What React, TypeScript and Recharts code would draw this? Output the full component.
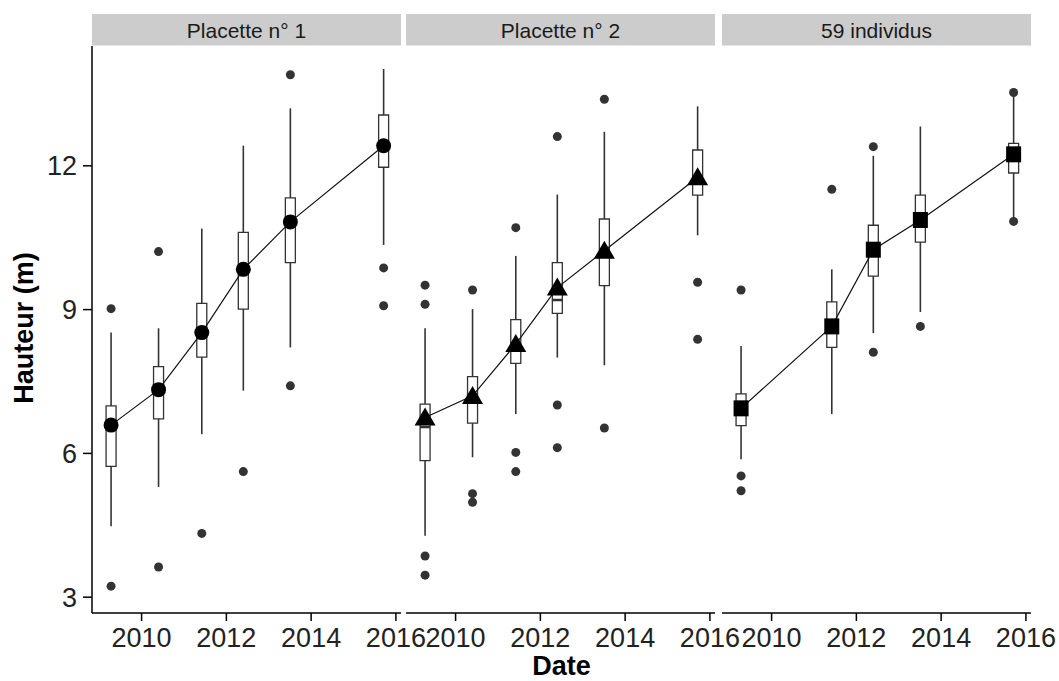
import React from 'react';
import {
  ComposedChart,
  XAxis,
  YAxis,
  Line,
  Scatter,
  ReferenceArea,
  ReferenceLine,
} from 'recharts';

const FONT = '"Liberation Sans", Arial, Helvetica, sans-serif';

// ---------- data ----------
const panelTitles = ['Placette n° 1', 'Placette n° 2', '59 individus'];
const xTicks = [2010, 2012, 2014, 2016];
const yTicks = [3, 6, 9, 12];

const datesAll = [2009.28, 2010.4, 2011.42, 2012.4, 2013.51, 2015.71];
const datesP3 = [2009.28, 2011.42, 2012.4, 2013.51, 2015.71];

// Placette n° 1
const p1Low = [4.48, 5.3, 6.4, 7.31, 8.21, 10.35];
const p1Q1 = [5.73, 6.72, 8.01, 9.01, 9.98, 11.97];
const p1Median = [6.5, 7.3, 8.5, 9.8, 10.8, 12.4];
const p1Q3 = [6.99, 7.81, 9.13, 10.61, 11.33, 13.06];
const p1High = [8.52, 8.61, 10.69, 12.42, 13.2, 14.02];
const p1Mean = [6.59, 7.33, 8.52, 9.84, 10.83, 12.42];
const p1Outliers = [[9.02, 3.23], [10.21, 3.63], [4.33], [5.62], [13.9, 7.41], [9.87, 9.08]];

// Placette n° 2
const p2Low = [4.28, 5.92, 6.82, 8.0, 7.84, 10.55];
const p2Q1 = [5.85, 6.63, 7.88, 8.92, 9.5, 11.39];
const p2Median = [6.55, 7.2, 8.3, 9.2, 10.2, 11.75];
const p2Q3 = [7.03, 7.6, 8.79, 9.98, 10.89, 12.33];
const p2High = [8.61, 9.01, 10.12, 11.4, 12.71, 13.24];
const p2Mean = [6.75, 7.2, 8.28, 9.46, 10.23, 11.76];
const p2Outliers = [[9.51, 9.11, 3.86, 3.46], [9.41, 5.16, 4.98], [10.71, 6.02, 5.62], [12.61, 7.01, 6.12], [13.39, 6.53], [9.57, 8.38]];

// 59 individus
const p3Low = [5.88, 6.82, 8.51, 8.95, 10.9];
const p3Q1 = [6.58, 8.21, 9.7, 10.41, 11.85];
const p3Median = [6.95, 8.65, 10.25, 10.87, 12.25];
const p3Q3 = [7.24, 9.16, 10.76, 11.39, 12.47];
const p3High = [8.24, 9.84, 12.21, 12.82, 13.45];
const p3Mean = [6.94, 8.65, 10.25, 10.87, 12.24];
const p3Outliers = [[9.41, 5.53, 5.22], [11.51], [12.4, 8.11], [8.65], [13.53, 10.84]];

// ---------- layout ----------
const X_DOMAIN: [number, number] = [2008.83, 2016.12];
const Y_DOMAIN: [number, number] = [2.67, 14.5];
const PW = 309;
const BOX_HALF = 0.118;
const W = 1059;
const H = 681;

type PanelData = {
  title: string;
  dates: number[];
  low: number[];
  q1: number[];
  median: number[];
  q3: number[];
  high: number[];
  mean: number[];
  outliers: number[][];
  marker: 'circle' | 'triangle' | 'square';
};

const panels: PanelData[] = [
  { title: panelTitles[0], dates: datesAll, low: p1Low, q1: p1Q1, median: p1Median, q3: p1Q3, high: p1High, mean: p1Mean, outliers: p1Outliers, marker: 'circle' },
  { title: panelTitles[1], dates: datesAll, low: p2Low, q1: p2Q1, median: p2Median, q3: p2Q3, high: p2High, mean: p2Mean, outliers: p2Outliers, marker: 'triangle' },
  { title: panelTitles[2], dates: datesP3, low: p3Low, q1: p3Q1, median: p3Median, q3: p3Q3, high: p3High, mean: p3Mean, outliers: p3Outliers, marker: 'square' },
];
const panelLefts = [92, 406, 722];

const MeanShape = (kind: string) => (props: any) => {
  const { cx, cy } = props;
  if (cx == null || cy == null) return null;
  if (kind === 'circle') return <circle cx={cx} cy={cy} r={7.5} fill="#000" />;
  if (kind === 'triangle')
    return (
      <polygon
        points={`${cx},${cy - 10} ${cx - 10.5},${cy + 8} ${cx + 10.5},${cy + 8}`}
        fill="#000"
      />
    );
  return <rect x={cx - 7.5} y={cy - 8} width={15} height={16} fill="#000" />;
};

const OutlierShape = (props: any) => {
  const { cx, cy } = props;
  if (cx == null || cy == null) return null;
  return <circle cx={cx} cy={cy} r={4.5} fill="#333" />;
};

const tickStyle = { fontSize: 27, fill: '#222', fontFamily: FONT };
const axisLineStyle = { stroke: '#000', strokeWidth: 1.5 };

function PanelChart({ p, left, showY }: { p: PanelData; left: number; showY: boolean }) {
  const meanData = p.dates.map((x, i) => ({ x, y: p.mean[i] }));
  const outlierData = p.dates.flatMap((x, i) => p.outliers[i].map((y) => ({ x, y })));
  return (
    <div style={{ position: 'absolute', left: 0, top: 0 }}>
      <ComposedChart
        width={W}
        height={H}
        data={meanData}
        margin={{ top: 46, bottom: 8, left: showY ? 0 : left, right: W - left - PW }}
      >
        <XAxis
          type="number"
          dataKey="x"
          domain={X_DOMAIN}
          ticks={xTicks}
          interval={0}
          allowDataOverflow
          height={60}
          tickSize={8}
          tickMargin={7}
          tick={tickStyle}
          axisLine={axisLineStyle}
          tickLine={axisLineStyle}
        />
        <YAxis
          type="number"
          dataKey="y"
          domain={Y_DOMAIN}
          ticks={yTicks}
          interval={0}
          allowDataOverflow
          hide={!showY}
          width={showY ? left : 0}
          tickSize={9}
          tickMargin={6}
          tick={tickStyle}
          axisLine={axisLineStyle}
          tickLine={axisLineStyle}
        />
        <Scatter data={outlierData} dataKey="y" shape={OutlierShape} isAnimationActive={false} />
        {p.dates.map((x, i) => (
          <ReferenceLine
            key={`wl${i}`}
            segment={[{ x, y: p.low[i] }, { x, y: p.q1[i] }]}
            stroke="#333"
            strokeWidth={1.6}
          />
        ))}
        {p.dates.map((x, i) => (
          <ReferenceLine
            key={`wh${i}`}
            segment={[{ x, y: p.q3[i] }, { x, y: p.high[i] }]}
            stroke="#333"
            strokeWidth={1.6}
          />
        ))}
        {p.dates.map((x, i) => (
          <ReferenceArea
            key={`b${i}`}
            x1={x - BOX_HALF}
            x2={x + BOX_HALF}
            y1={p.q1[i]}
            y2={p.q3[i]}
            fill="#fff"
            fillOpacity={1}
            stroke="#333"
            strokeWidth={1.3}
          />
        ))}
        {p.dates.map((x, i) => (
          <ReferenceLine
            key={`m${i}`}
            segment={[{ x: x - BOX_HALF, y: p.median[i] }, { x: x + BOX_HALF, y: p.median[i] }]}
            stroke="#333"
            strokeWidth={2.5}
          />
        ))}
        <Line
          data={meanData}
          dataKey="y"
          stroke="#111"
          strokeWidth={1.2}
          dot={false}
          activeDot={false}
          isAnimationActive={false}
        />
        <Scatter data={meanData} dataKey="y" shape={MeanShape(p.marker)} isAnimationActive={false} />
      </ComposedChart>
    </div>
  );
}

export default function App() {
  return (
    <div style={{ position: 'absolute', left: 0, top: 0, width: W, height: H, background: '#fff' }}>
      <svg width={W} height={H} style={{ position: 'absolute', left: 0, top: 0 }}>
        {panels.map((p, i) => (
          <g key={i}>
            <rect x={panelLefts[i]} y={14} width={PW} height={31.5} fill="#cccccc" />
            <text
              x={panelLefts[i] + PW / 2}
              y={38}
              textAnchor="middle"
              fontSize={21}
              fontFamily={FONT}
              fill="#1a1a1a"
            >
              {p.title}
            </text>
          </g>
        ))}
        <text
          x={33}
          y={328}
          transform="rotate(-90 33 328)"
          textAnchor="middle"
          fontSize={27}
          fontWeight="bold"
          fontFamily={FONT}
          fill="#000"
        >
          Hauteur (m)
        </text>
        <text x={561.5} y={675} textAnchor="middle" fontSize={27} fontWeight="bold" fontFamily={FONT} fill="#000">
          Date
        </text>
      </svg>
      {panels.map((p, i) => (
        <PanelChart key={i} p={p} left={panelLefts[i]} showY={i === 0} />
      ))}
    </div>
  );
}
